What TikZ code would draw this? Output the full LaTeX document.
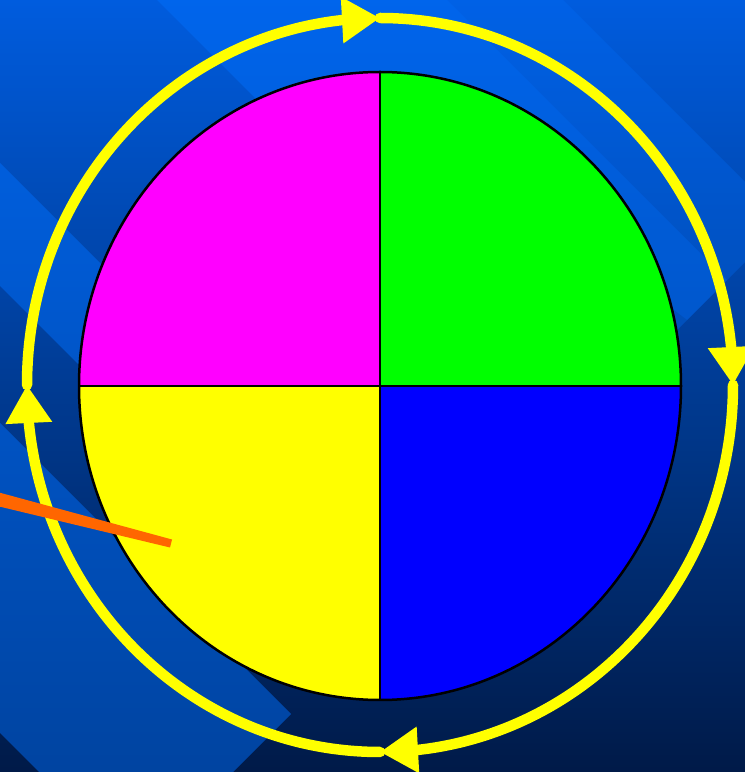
\documentclass[tikz,border=0pt]{standalone}
\usetikzlibrary{arrows.meta,bending}
\definecolor{bgtop}{RGB}{0,92,222}
\definecolor{bgmid}{RGB}{0,70,172}
\definecolor{bgbot}{RGB}{0,26,72}
\definecolor{bandc}{RGB}{0,110,250}
\definecolor{loopyellow}{RGB}{255,255,0}
\definecolor{orangeline}{RGB}{255,102,0}
\definecolor{qmag}{RGB}{255,0,255}
\definecolor{qgreen}{RGB}{0,255,0}
\definecolor{qyellow}{RGB}{255,255,0}
\definecolor{qblue}{RGB}{0,0,255}
\tikzset{
  band/.style={fill=bandc,fill opacity=0.5},
  bandweak/.style={fill=bandc,fill opacity=0.3},
  bandshadow/.style={fill=black,fill opacity=0.08},
  loopline/.style={draw=loopyellow,line width=10.5pt,line join=round,line cap=round,
    -{Triangle[length=38pt,width=44pt,flex]}},
  quad/.style={draw=black,line width=2pt},
}
\begin{document}
\begin{tikzpicture}[x=1pt,y=1pt]
\useasboundingbox (0,0) rectangle (745,772);
% background
\shade[top color=bgtop,middle color=bgmid,bottom color=bgbot] (0,0) rectangle (745,772);
\begin{scope}
\clip (0,0) rectangle (745,772);
\fill[band] (157,772) -- (447,772) -- (727,492) -- (582,347) -- cycle;
\fill[bandweak] (447,772) -- (563,772) -- (785,550) -- (727,492) -- cycle;
\fill[bandshadow] (300,629) -- (367,696) -- (687,452) -- (582,347) -- cycle;
\fill[band] (-50,659) -- (-50,536) -- (157,329) -- (218,391) -- cycle;
\fill[band] (-50,399) -- (291,58) -- (136,-97) -- (-50,89) -- cycle;
\end{scope}
% pie
\coordinate (C) at (380,386);
\coordinate (PL) at (79,386);
\coordinate (PR) at (681,386);
\coordinate (PT) at (380,700);
\coordinate (PB) at (380,72);
\fill[qmag] (C) -- (PL) arc[start angle=180,end angle=90,x radius=301,y radius=314] -- cycle;
\fill[qgreen] (C) -- (PT) arc[start angle=90,end angle=0,x radius=301,y radius=314] -- cycle;
\fill[qblue] (C) -- (PR) arc[start angle=0,end angle=-90,x radius=301,y radius=314] -- cycle;
\fill[qyellow] (C) -- (PB) arc[start angle=-90,end angle=-180,x radius=301,y radius=314] -- cycle;
\draw[quad] (PT) -- (PB);
\draw[quad] (PL) -- (PR);
\draw[draw=black,line width=2.5pt] (C) ellipse[x radius=301,y radius=314];
% yellow loop
\coordinate (YL) at (27,387);
\coordinate (YT) at (380,754);
\coordinate (YR) at (733,387);
\coordinate (YB) at (380,20);
\draw[loopline] (YL) arc[start angle=180,end angle=90,x radius=353,y radius=367];
\draw[loopline] (YT) arc[start angle=90,end angle=0,x radius=353,y radius=367];
\draw[loopline] (YR) arc[start angle=0,end angle=-90,x radius=353,y radius=367];
\draw[loopline] (YB) arc[start angle=-90,end angle=-180,x radius=353,y radius=367];
% orange pointer
\coordinate (O1) at (-5,280.6);
\coordinate (O2) at (172,232.5);
\coordinate (O3) at (170,224.5);
\coordinate (O4) at (-5,266.5);
\fill[orangeline] (O1) -- (O2) -- (O3) -- (O4) -- cycle;
\end{tikzpicture}
\end{document}
